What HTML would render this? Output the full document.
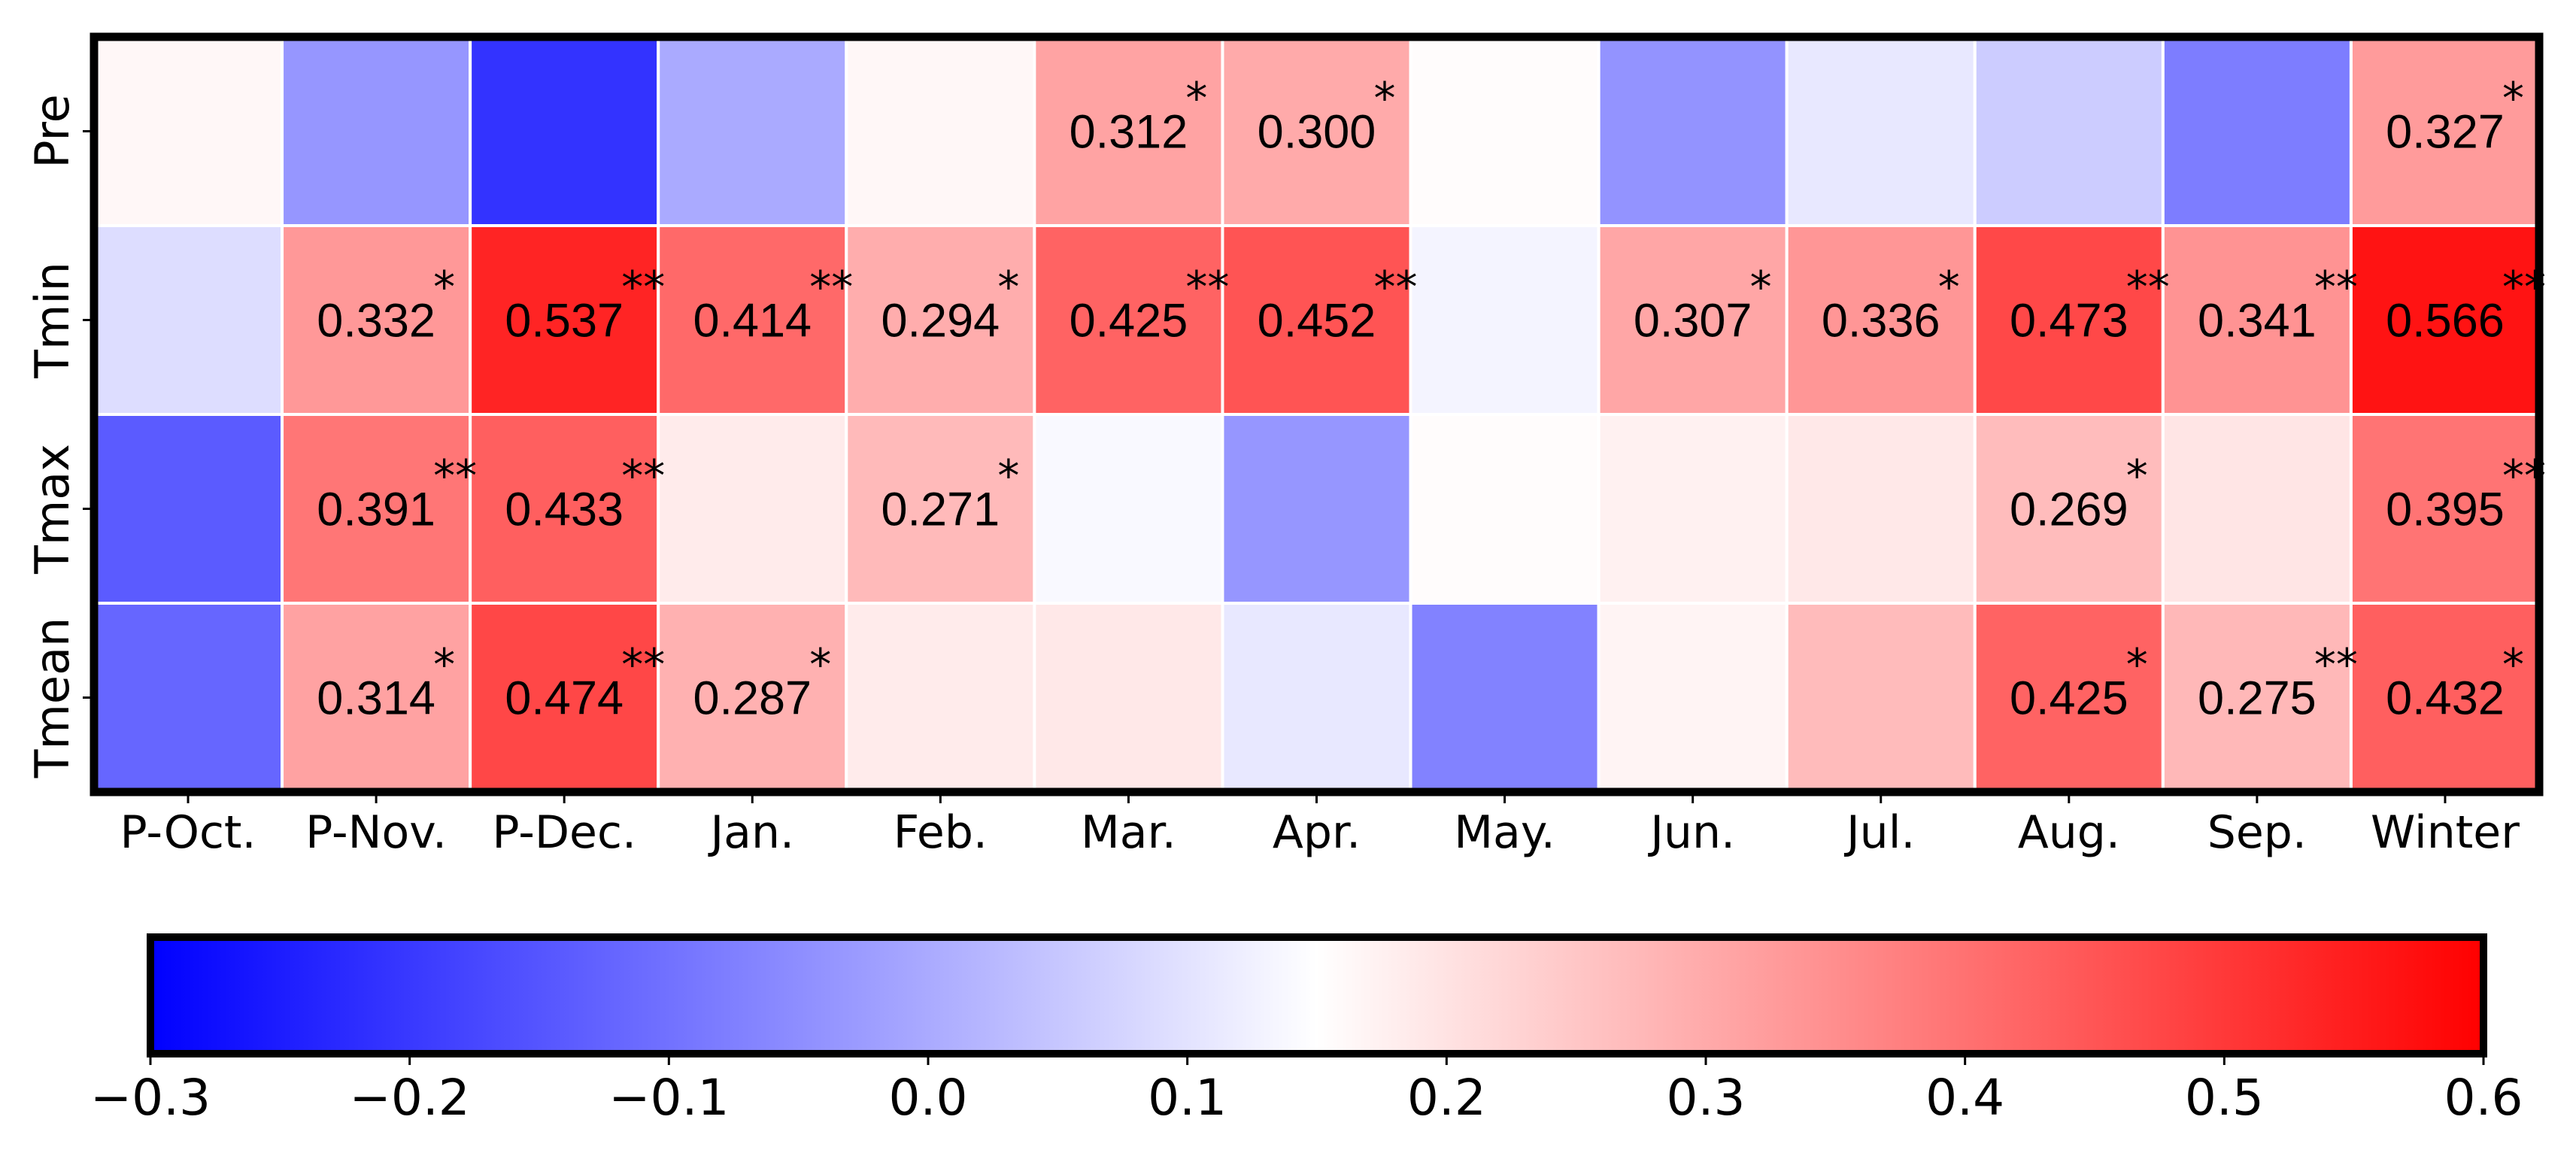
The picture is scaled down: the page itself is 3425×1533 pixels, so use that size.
<!DOCTYPE html>
<html><head><meta charset="utf-8"><style>
html,body{margin:0;padding:0;background:#fff;}
svg{display:block;}
</style></head><body>
<svg id="chart" width="3425" height="1533" viewBox="0 0 3425 1533" xmlns="http://www.w3.org/2000/svg">
<defs>
<linearGradient id="bwr" x1="0" x2="1" y1="0" y2="0">
<stop offset="0" stop-color="#0000ff"/><stop offset="0.5" stop-color="#ffffff"/><stop offset="1" stop-color="#ff0000"/>
</linearGradient>
</defs>
<g id="cells"></g>
<g id="labels"></g>
</svg>
<script>
const columns = ["P-Oct.","P-Nov.","P-Dec.","Jan.","Feb.","Mar.","Apr.","May.","Jun.","Jul.","Aug.","Sep.","Winter"];
const rows = ["Pre","Tmin","Tmax","Tmean"];
const valuesPre   = [0.165,-0.035,-0.21,0.0,0.165,0.312,0.300,0.155,-0.04,0.11,0.06,-0.08,0.327];
const valuesTmin  = [0.09,0.332,0.537,0.414,0.294,0.425,0.452,0.13,0.307,0.336,0.473,0.341,0.566];
const valuesTmax  = [-0.14,0.391,0.433,0.185,0.271,0.14,-0.035,0.155,0.175,0.19,0.269,0.195,0.395];
const valuesTmean = [-0.12,0.314,0.474,0.287,0.185,0.19,0.11,-0.07,0.17,0.27,0.425,0.275,0.432];
const labelsPre   = ["","","","","","0.312","0.300","","","","","","0.327"];
const labelsTmin  = ["","0.332","0.537","0.414","0.294","0.425","0.452","","0.307","0.336","0.473","0.341","0.566"];
const labelsTmax  = ["","0.391","0.433","","0.271","","","","","","0.269","","0.395"];
const labelsTmean = ["","0.314","0.474","0.287","","","","","","","0.425","0.275","0.432"];
const starsPre   = ["","","","","","*","*","","","","","","*"];
const starsTmin  = ["","*","**","**","*","**","**","","*","*","**","**","**"];
const starsTmax  = ["","**","**","","*","","","","","","*","","**"];
const starsTmean = ["","*","**","*","","","","","","","*","**","*"];
const cbTicks = [-0.3,-0.2,-0.1,0.0,0.1,0.2,0.3,0.4,0.5,0.6];
const vmin = -0.3, vmax = 0.6;

const NS = "http://www.w3.org/2000/svg";
const gC = document.getElementById('cells');
const gL = document.getElementById('labels');
const X0 = 125, X1 = 3376, Y0 = 49, Y1 = 1053;
const cw = (X1 - X0) / columns.length, rh = (Y1 - Y0) / rows.length;
const xCell = i => X0 + i * cw;
const yCell = j => Y0 + j * rh;
const CB0 = 200, CB1 = 3302, CBT = 1246, CBB = 1401;
const xCb = v => CB0 + (v - vmin) / (vmax - vmin) * (CB1 - CB0);
function color(v) {
  const mid = (vmin + vmax) / 2;
  let r, g, b;
  if (v <= mid) { const t = Math.max(0, (v - vmin) / (mid - vmin)); r = g = Math.round(t * 255); b = 255; }
  else { const t = Math.min(1, (v - mid) / (vmax - mid)); r = 255; g = b = Math.round((1 - t) * 255); }
  return `rgb(${r},${g},${b})`;
}
function mk(tag, attrs, parent) {
  const e = document.createElementNS(NS, tag);
  for (const k in attrs) e.setAttribute(k, attrs[k]);
  parent.appendChild(e); return e;
}
const allVals = [valuesPre, valuesTmin, valuesTmax, valuesTmean];
const allLabels = [labelsPre, labelsTmin, labelsTmax, labelsTmean];
const allStars = [starsPre, starsTmin, starsTmax, starsTmean];
for (let j = 0; j < rows.length; j++) {
  for (let i = 0; i < columns.length; i++) {
    const r = mk('rect', {x: xCell(i), y: yCell(j), width: cw, height: rh, fill: color(allVals[j][i]), stroke: '#fff', 'stroke-width': 4}, gC);
    
    
    if (allLabels[j][i]) {
      const cx = xCell(i) + cw / 2, cy = yCell(j) + rh / 2;
      const t = mk('text', {x: cx, y: cy + 22, 'text-anchor': 'middle', 'font-family': 'Liberation Sans, Arial, sans-serif', 'font-size': 63, fill: '#000'}, gL);
      t.textContent = allLabels[j][i];
      
      
      const s = mk('text', {x: cx + 76, y: cy - 24, 'text-anchor': 'start', 'font-family': 'DejaVu Sans, sans-serif', 'font-size': 58, fill: '#000'}, gL);
      s.textContent = allStars[j][i];
      
      
    }
  }
}
const fr = mk('rect', {x: X0, y: Y0, width: X1 - X0, height: Y1 - Y0, fill: 'none', stroke: '#000', 'stroke-width': 11}, gL);


for (let i = 0; i < columns.length; i++) {
  const cx = xCell(i) + cw / 2;
  mk('line', {x1: cx, x2: cx, y1: Y1 + 5, y2: Y1 + 15, stroke: '#000', 'stroke-width': 3}, gL);
  const t = mk('text', {x: cx, y: 1127, 'text-anchor': 'middle', 'font-family': 'DejaVu Sans, sans-serif', 'font-size': 60, fill: '#000'}, gL);
  t.textContent = columns[i];
  
  
}
for (let j = 0; j < rows.length; j++) {
  const cy = yCell(j) + rh / 2;
  mk('line', {x1: X0 - 15, x2: X0 - 5, y1: cy, y2: cy, stroke: '#000', 'stroke-width': 3}, gL);
  const t = mk('text', {x: 0, y: 0, transform: `translate(91 ${cy}) rotate(-90)`, 'text-anchor': 'middle', 'font-family': 'DejaVu Sans, sans-serif', 'font-size': 62, fill: '#000'}, gL);
  t.textContent = rows[j];
  
  
}
const cb = mk('rect', {x: CB0, y: CBT, width: CB1 - CB0, height: CBB - CBT, fill: 'url(#bwr)', stroke: '#000', 'stroke-width': 10}, gL);


for (const v of cbTicks) {
  const x = xCb(v);
  mk('line', {x1: x, x2: x, y1: CBB + 5, y2: CBB + 15, stroke: '#000', 'stroke-width': 3}, gL);
  const t = mk('text', {x: x, y: 1482, 'text-anchor': 'middle', 'font-family': 'DejaVu Sans, sans-serif', 'font-size': 66, fill: '#000'}, gL);
  t.textContent = (v < 0 ? '\u2212' : '') + Math.abs(v).toFixed(1);
  
  
}
</script>
</body></html>
